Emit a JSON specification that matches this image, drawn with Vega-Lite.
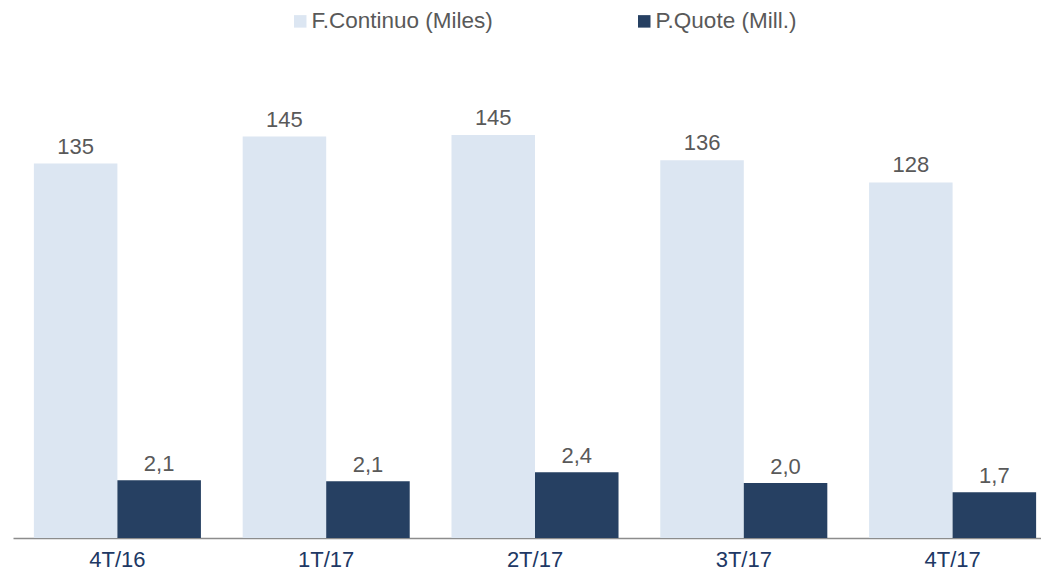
{
  "$schema": "https://vega.github.io/schema/vega-lite/v6.json",
  "width": 1028,
  "height": 478,
  "autosize": {"type": "none"},
  "padding": {"left": 13, "top": 60, "right": 0, "bottom": 35},
  "config": {
    "view": {"stroke": null},
    "font": "Liberation Sans",
    "locale": {"number": {"decimal": ",", "thousands": ".", "grouping": [3], "currency": ["", " €"]}}
  },
  "data": {
    "values": [
      {"q": "4T/16", "series": "F.Continuo (Miles)", "value": 134.9},
      {"q": "1T/17", "series": "F.Continuo (Miles)", "value": 144.6},
      {"q": "2T/17", "series": "F.Continuo (Miles)", "value": 145.2},
      {"q": "3T/17", "series": "F.Continuo (Miles)", "value": 136.1},
      {"q": "4T/17", "series": "F.Continuo (Miles)", "value": 128.1},
      {"q": "4T/16", "series": "P.Quote (Mill.)", "value": 2.11},
      {"q": "1T/17", "series": "P.Quote (Mill.)", "value": 2.07},
      {"q": "2T/17", "series": "P.Quote (Mill.)", "value": 2.40},
      {"q": "3T/17", "series": "P.Quote (Mill.)", "value": 2.01},
      {"q": "4T/17", "series": "P.Quote (Mill.)", "value": 1.67}
    ]
  },
  "encoding": {
    "x": {
      "field": "q", "type": "nominal", "sort": null,
      "scale": {"paddingInner": 0.2, "paddingOuter": 0.1, "range": [0, 1044]},
      "axis": {
        "title": null, "labelAngle": 0, "ticks": false, "grid": false,
        "domainColor": "#8c8c8c", "domainWidth": 1.5,
        "labelFontSize": 22, "labelColor": "#203864", "labelPadding": 11,
        "labelFont": "Liberation Sans"
      }
    },
    "xOffset": {
      "field": "series", "type": "nominal",
      "scale": {"domain": ["F.Continuo (Miles)", "P.Quote (Mill.)"], "paddingInner": 0, "paddingOuter": 0}
    }
  },
  "layer": [
    {
      "transform": [{"filter": "datum.series === 'F.Continuo (Miles)'"}],
      "mark": {"type": "bar"},
      "encoding": {
        "y": {"field": "value", "type": "quantitative", "scale": {"domain": [0, 172.2], "nice": false, "zero": true}, "axis": null},
        "color": {
          "field": "series", "type": "nominal",
          "scale": {"domain": ["F.Continuo (Miles)", "P.Quote (Mill.)"], "range": ["#dce6f2", "#264062"]},
          "legend": {
            "orient": "none", "legendX": 276, "legendY": -50, "direction": "horizontal",
            "title": null, "symbolType": "square", "symbolSize": 156, "symbolStrokeWidth": 0,
            "labelFontSize": 22.5, "labelColor": "#595959", "labelFont": "Liberation Sans",
            "labelLimit": 400, "columnPadding": 140, "labelOffset": 0
          }
        }
      }
    },
    {
      "transform": [{"filter": "datum.series === 'F.Continuo (Miles)'"}],
      "mark": {"type": "text", "fontSize": 22, "color": "#595959", "dy": -10, "baseline": "alphabetic"},
      "encoding": {
        "y": {"field": "value", "type": "quantitative", "scale": {"domain": [0, 172.2], "nice": false, "zero": true}, "axis": null},
        "text": {"field": "value", "type": "quantitative", "format": ".0f"}
      }
    },
    {
      "transform": [{"filter": "datum.series === 'P.Quote (Mill.)'"}],
      "mark": {"type": "bar"},
      "encoding": {
        "y": {"field": "value", "type": "quantitative", "scale": {"domain": [0, 17.45], "nice": false, "zero": true}, "axis": null},
        "color": {
          "field": "series", "type": "nominal",
          "scale": {"domain": ["F.Continuo (Miles)", "P.Quote (Mill.)"], "range": ["#dce6f2", "#264062"]}
        }
      }
    },
    {
      "transform": [{"filter": "datum.series === 'P.Quote (Mill.)'"}],
      "mark": {"type": "text", "fontSize": 22, "color": "#595959", "dy": -9, "baseline": "alphabetic"},
      "encoding": {
        "y": {"field": "value", "type": "quantitative", "scale": {"domain": [0, 17.45], "nice": false, "zero": true}, "axis": null},
        "text": {"field": "value", "type": "quantitative", "format": ".1f"}
      }
    }
  ],
  "resolve": {"scale": {"y": "independent"}}
}
